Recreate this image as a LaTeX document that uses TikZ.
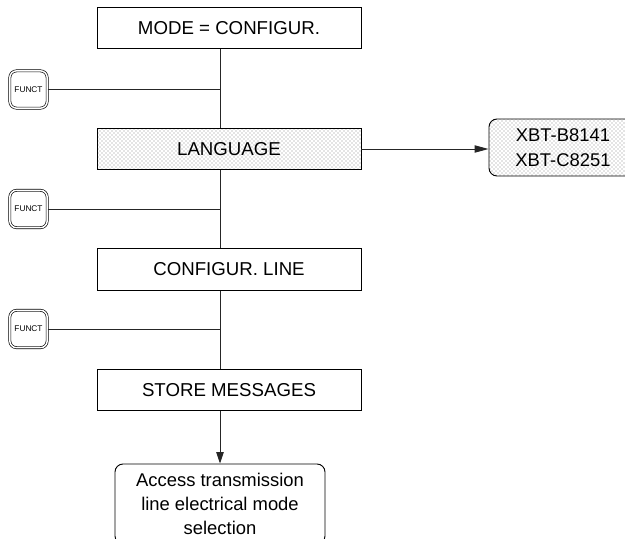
\documentclass[tikz,border=0pt]{standalone}
\usepackage{fontspec}
\setmainfont{Liberation Sans}
\usetikzlibrary{arrows.meta,patterns,positioning}
\begin{document}
\begin{tikzpicture}[x=0.75pt,y=-0.75pt]
% define styles
\tikzset{step box/.style={draw=black,
                       line width=0.7pt,
                       minimum width=198pt,
                       minimum height=31pt,
                       inner sep=0,
                       font=\fontsize{14}{16}\selectfont,
                       },
         shaded/.style={pattern=crosshatch dots,
                       pattern color=black!45,
                       },
         result box/.style={draw=black,
                       line width=0.7pt,
                       rounded corners=6pt,
                       align=center,
                       inner sep=0,
                       font=\fontsize{13.8}{18}\selectfont,
                       },
         funct key/.style={draw=black,
                       double,
                       double distance=1.1pt,
                       line width=0.5pt,
                       rounded corners=5pt,
                       minimum width=28pt,
                       minimum height=28pt,
                       inner sep=0,
                       font=\fontsize{6.2}{7}\selectfont,
                       },
         link/.style={draw=black!85,line width=0.7pt},
         tip/.style={-{Triangle[length=8.5pt,width=5.5pt]}},
         long tip/.style={-{Triangle[length=10.5pt,width=5.5pt]}}
}
\useasboundingbox (0,0) rectangle (625,539);

% boxes
\node[step box]        (mode)  at (229,28)  {MODE = CONFIGUR.};
\node[step box,shaded] (lang)  at (229,149) {LANGUAGE};
\node[step box]        (line)  at (229,269.5) {CONFIGUR. LINE};
\node[step box]        (store) at (229,390) {STORE MESSAGES};
\node[result box,shaded,minimum width=111pt,minimum height=42.75pt,
      font=\fontsize{13.8}{18.75}\selectfont] (xbt) at (563,147.5)
    {XBT-B8141\\XBT-C8251};
\node[result box,minimum width=157.5pt,minimum height=60pt] (access) at (220,504)
    {Access transmission\\line electrical mode\\selection};

% keys
\node[funct key] (funct1) at (28.5,89.5)  {FUNCT};
\node[funct key] (funct2) at (28.5,209) {FUNCT};
\node[funct key] (funct3) at (28.5,329) {FUNCT};

% connectors
\coordinate (trunk) at (220,0);
\path[link] (mode.south -| trunk) -- (lang.north -| trunk);
\path[link] (lang.south -| trunk) -- (line.north -| trunk);
\path[link] (line.south -| trunk) -- (store.north -| trunk);
\path[link] (funct1) -- (funct1 -| trunk);
\path[link] (funct2) -- (funct2 -| trunk);
\path[link] (funct3) -- (funct3 -| trunk);
\draw[link,long tip] (lang) -- (xbt.west |- lang);
\draw[link,tip] (store.south -| trunk) -- (access.north -| trunk);
\end{tikzpicture}
\end{document}
